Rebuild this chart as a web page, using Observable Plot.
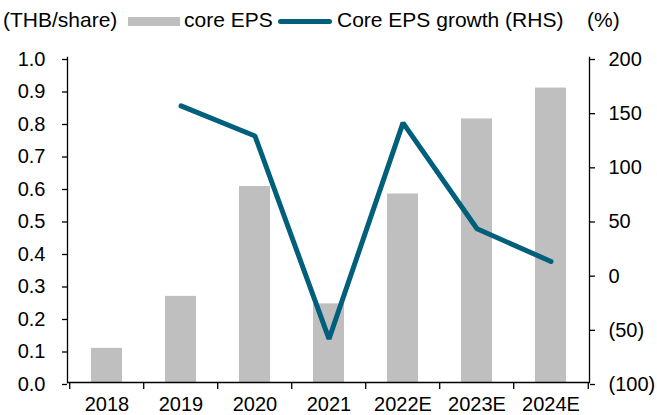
<!DOCTYPE html>
<html>
<head>
<meta charset="utf-8">
<script src="https://cdn.jsdelivr.net/npm/d3@7"></script>
<script src="https://cdn.jsdelivr.net/npm/@observablehq/plot@0.6"></script>
<style>
  body { margin: 0; background: #fff; }
  #wrap { width: 657px; height: 415px; position: relative; overflow: hidden; font-family: "Liberation Sans", Arial, sans-serif; }
  #legend { position: relative; height: 40px; font-size: 21px; color: #000; }
  #legend span { position: absolute; top: 8px; line-height: 24px; white-space: nowrap; }
  #legend .sw { position: absolute; }
</style>
</head>
<body>
<div id="wrap">
  <div id="legend">
    <span style="left:3px">(THB/share)</span>
    <div class="sw" style="left:128px; top:17px; width:52px; height:9px; background:#bfbfbf"></div>
    <span style="left:184px">core EPS</span>
    <div class="sw" style="left:278px; top:19px; width:54px; height:5px; border-radius:3px; background:#005f7a"></div>
    <span style="left:337px">Core EPS growth (RHS)</span>
    <span style="left:587px">(%)</span>
  </div>
  <div id="chart"></div>
</div>
<script>
const categories = ["2018", "2019", "2020", "2021", "2022E", "2023E", "2024E"];
const coreEPS = [0.105, 0.265, 0.603, 0.242, 0.580, 0.811, 0.906];
const growthYears = ["2019", "2020", "2021", "2022E", "2023E", "2024E"];
const growth = [155.3, 127.5, -59.8, 139.6, 41.9, 11.7];
const leftTicks = [0, 0.1, 0.2, 0.3, 0.4, 0.5, 0.6, 0.7, 0.8, 0.9, 1.0];
const rightTicks = [-100, -50, 0, 50, 100, 150, 200];

const rMin = -100, rMax = 200;
const toLeft = g => (g - rMin) / (rMax - rMin);
const fromLeft = v => rMin + v * (rMax - rMin);

const bars = categories.map((c, i) => ({cat: c, v: coreEPS[i]}));
const line = growthYears.map((c, i) => ({cat: c, v: toLeft(growth[i])}));

const W = 657, H = 375, mL = 67, mR = 68, mT = 17, mB = 33;
const step = (W - mL - mR) / categories.length;
const pin = 0.585;

const fmtR = v => {
  const g = Math.round(fromLeft(v));
  return g < 0 ? `(${Math.abs(g)})` : `${g}`;
};

const chart = Plot.plot({
  width: W, height: H,
  marginLeft: mL, marginRight: mR, marginTop: mT, marginBottom: mB,
  style: {fontFamily: "'Liberation Sans', Arial, sans-serif", fontSize: "20px", color: "#000", background: "transparent"},
  x: {domain: categories, paddingInner: pin, paddingOuter: pin / 2, label: null},
  y: {domain: [0, 1], label: null},
  marks: [
    Plot.barY(bars, {x: "cat", y: "v", fill: "#bfbfbf"}),
    Plot.line(line, {x: "cat", y: "v", stroke: "#005f7a", strokeWidth: 5, strokeLinejoin: "miter", strokeLinecap: "round"}),
    Plot.frame({anchor: "left", stroke: "#000", strokeWidth: 1.3}),
    Plot.frame({anchor: "right", stroke: "#000", strokeWidth: 1.3}),
    Plot.ruleY([0], {stroke: "#000", strokeWidth: 1.3}),
    Plot.axisY({anchor: "left", ticks: leftTicks, tickFormat: d3.format(".1f"), tickSize: 5, tickPadding: 17, dy: 2, label: null, fontSize: 20, strokeWidth: 1.3}),
    Plot.axisY({anchor: "right", ticks: rightTicks.map(toLeft), tickFormat: fmtR, tickSize: 5, tickPadding: 14, dy: 2, label: null, fontSize: 20, textAnchor: "start", strokeWidth: 1.3}),
    Plot.axisX({ticks: categories, tickSize: 7, tickFormat: () => "", dx: -step / 2, label: null, strokeWidth: 1.3}),
    Plot.axisX({ticks: [categories[categories.length - 1]], tickSize: 7, tickFormat: () => "", dx: step / 2, label: null, strokeWidth: 1.3}),
    Plot.axisX({ticks: categories, tickSize: 0, tickPadding: 14, label: null, fontSize: 20})
  ]
});
document.getElementById("chart").appendChild(chart);
</script>
</body>
</html>
